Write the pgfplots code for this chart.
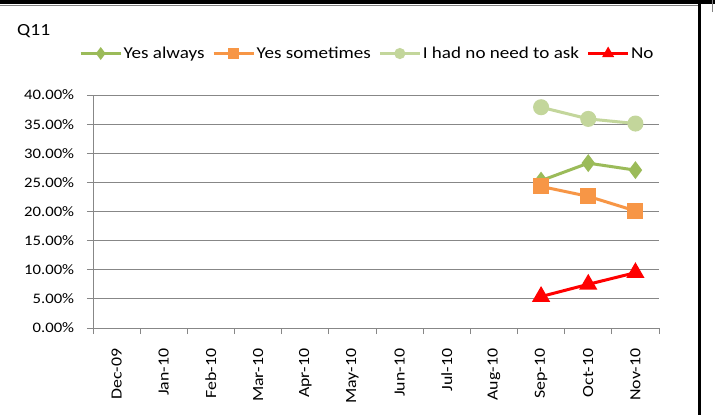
\documentclass[border=0pt]{standalone}
\usepackage{pgfplots}
\pgfplotsset{compat=1.18}
\usepackage{fontspec}
\setmainfont{Carlito}[FakeStretch=1.15]
\definecolor{cgreen}{HTML}{9BBB59}
\definecolor{corange}{HTML}{F79646}
\definecolor{clight}{HTML}{C3D69B}
\definecolor{cgrid}{HTML}{878787}
\begin{document}
\begin{tikzpicture}[x=1pt,y=1pt]
\useasboundingbox (0,0) rectangle (715,415);
\fill[white] (0,0) rectangle (715,415);
% outer frame of the chart
\draw[line width=3.5pt] (0,413) -- (715,413);
\draw[line width=3.5pt] (699.5,415) -- (699.5,0);
\draw[gray, line width=1pt] (0,409.5) -- (697.5,409.5);
\draw[gray, line width=1pt] (712.5,415) -- (712.5,403);
\node[anchor=west, font=\fontsize{17}{20}\selectfont, inner sep=0pt] at (17,384) {Q11};
\begin{axis}[
  at={(93pt,87pt)}, anchor=south west,
  scale only axis, width=566pt, height=233pt,
  xmin=-0.5, xmax=11.5, ymin=0, ymax=40,
  axis x line*=bottom, axis y line*=left,
  axis line style={cgrid, line width=0.8pt},
  xtick={0,...,11},
  xticklabels={Dec-09,Jan-10,Feb-10,Mar-10,Apr-10,May-10,Jun-10,Jul-10,Aug-10,Sep-10,Oct-10,Nov-10},
  x tick label style={rotate=90, anchor=east, font=\fontsize{15.5}{18}\selectfont},
  major x tick style={draw=none},
  minor xtick={-0.5,0.5,...,11.5},
  minor x tick style={cgrid, line width=0.8pt},
  ytick={0,5,...,40},
  yticklabel={\pgfmathprintnumber[fixed,fixed zerofill,precision=2]{\tick}\%},
  y tick label style={font=\fontsize{14.5}{17}\selectfont},
  /pgf/number format/assume math mode=true,
  ytick style={cgrid, line width=0.8pt},
  tick align=outside, major tick length=6pt, minor tick length=6pt,
  ymajorgrids, grid style={cgrid, line width=0.8pt},
  xticklabel shift=10pt, yticklabel shift=8pt,
  line width=3pt,
  clip=false,
  legend columns=4,
  legend style={at={(-0.027,1.178)}, anchor=west, draw=none, fill=none,
    font=\fontsize{16.6}{19}\selectfont, column sep=0pt, inner sep=0pt,
    nodes={inner sep=1.5pt},
    /tikz/every odd column/.append style={column sep=0pt},
    /tikz/every even column/.append style={column sep=6pt}},
  legend image code/.code={\draw[mark repeat=2,mark phase=2, mark size=4pt] plot coordinates {(0pt,0pt) (20pt,0pt) (40pt,0pt)};},
]
\addplot[cgreen, mark=diamond*, mark size=6.5pt] coordinates {(9,25.3) (10,28.3) (11,27.1)};
\addlegendentry{Yes always}
\addplot[corange, mark=square*, mark size=6.5pt] coordinates {(9,24.3) (10,22.6) (11,20.1)};
\addlegendentry{Yes sometimes}
\addplot[clight, mark=*, mark size=6.5pt] coordinates {(9,37.9) (10,35.9) (11,35.1)};
\addlegendentry{I had no need to ask}
\addplot[red, mark=triangle*, mark size=7.5pt] coordinates {(9,5.4) (10,7.5) (11,9.5)};
\addlegendentry{No}
\end{axis}
\end{tikzpicture}
\end{document}
